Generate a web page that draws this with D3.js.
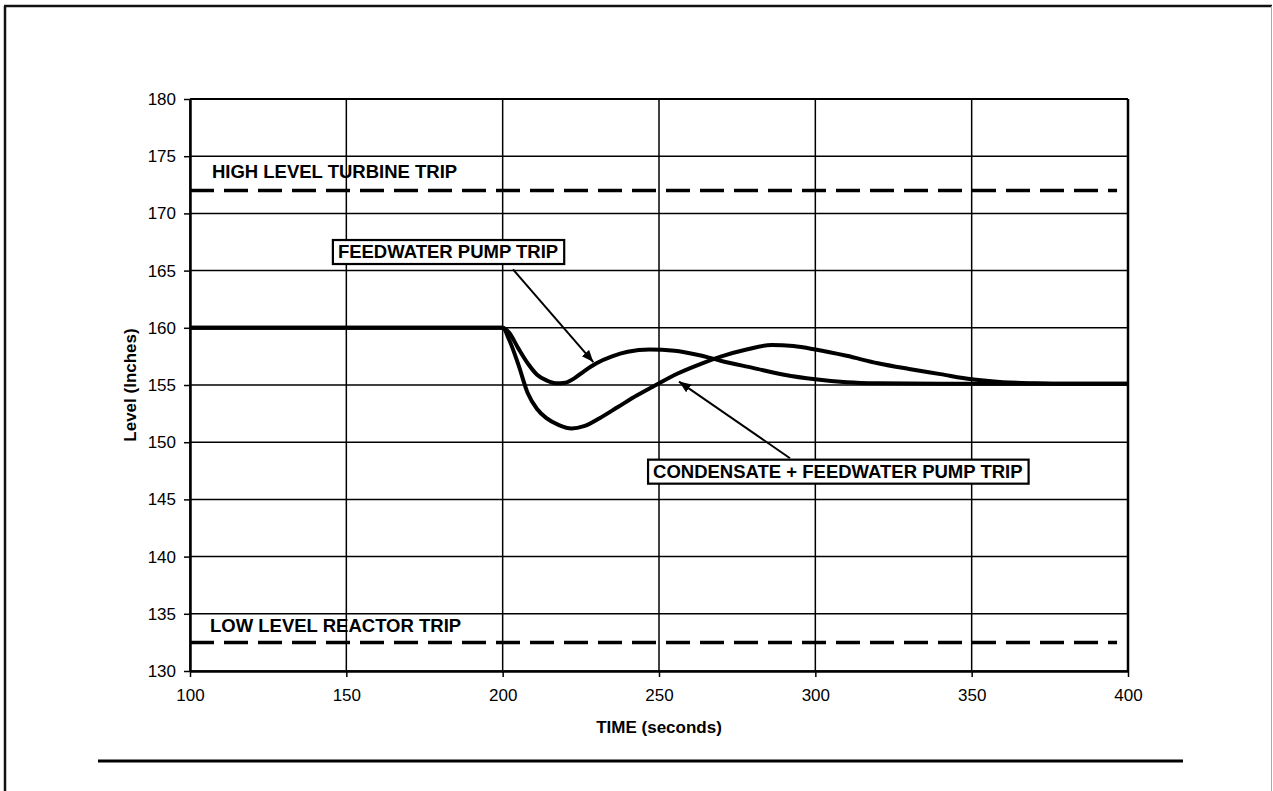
<!DOCTYPE html>
<html>
<head>
<meta charset="utf-8">
<script src="https://cdn.jsdelivr.net/npm/d3@7"></script>
<style>
  body { margin: 0; background: #fff; }
  svg text { font-family: "Liberation Sans", Arial, Helvetica, sans-serif; fill: #000; }
</style>
</head>
<body>
<div id="chart"></div>
<script>
// Data
var xTicks = [100, 150, 200, 250, 300, 350, 400]
var yTicks = [130, 135, 140, 145, 150, 155, 160, 165, 170, 175, 180]

// Feedwater pump trip
var fwTime  = [100, 200, 202, 205, 208, 211, 214, 217, 220, 223, 226, 230, 235, 240, 247, 255, 263, 270, 280, 290, 300, 310, 320, 340, 360, 380, 400]
var fwLevel = [160, 160, 159.6, 158.2, 156.9, 155.9, 155.4, 155.15, 155.2, 155.6, 156.2, 156.9, 157.5, 157.9, 158.1, 158.0, 157.6, 157.1, 156.5, 155.9, 155.5, 155.25, 155.15, 155.1, 155.1, 155.1, 155.1]

// Condensate + feedwater pump trip
var cfTime  = [100, 200, 202, 205, 208, 211, 214, 218, 222, 226, 231, 237, 243, 249, 256, 263, 270, 278, 286, 293, 300, 310, 320, 330, 340, 350, 360, 370, 380, 400]
var cfLevel = [160, 160, 159.0, 156.8, 154.3, 152.9, 152.1, 151.5, 151.2, 151.4, 152.1, 153.1, 154.1, 155.0, 156.0, 156.8, 157.5, 158.1, 158.5, 158.4, 158.1, 157.55, 156.9, 156.4, 155.95, 155.5, 155.25, 155.15, 155.1, 155.1]

// Trip setpoints
var tripNames  = ["HIGH LEVEL TURBINE TRIP", "LOW LEVEL REACTOR TRIP"]
var tripLevels = [172, 132.5]

var W = 1273, H = 791
var margin = {left: 190, top: 99, right: 145, bottom: 120}
var width = W - margin.left - margin.right   // 938
var height = H - margin.top - margin.bottom  // 572

var svg = d3.select("#chart").append("svg")
  .attr("width", W)
  .attr("height", H)

// page frame
svg.append("line").attr("x1", 5).attr("y1", 6).attr("x2", 5).attr("y2", H)
  .attr("stroke", "#111").attr("stroke-width", 2.5)
svg.append("line").attr("x1", 4).attr("y1", 6).attr("x2", 1272).attr("y2", 6)
  .attr("stroke", "#111").attr("stroke-width", 2.5)
svg.append("line").attr("x1", 1271.5).attr("y1", 6).attr("x2", 1271.5).attr("y2", H)
  .attr("stroke", "#aaa").attr("stroke-width", 1)

// separator under the chart
svg.append("line").attr("x1", 98).attr("y1", 761).attr("x2", 1183).attr("y2", 761)
  .attr("stroke", "#000").attr("stroke-width", 3)

var g = svg.append("g").attr("transform", "translate(" + margin.left + "," + margin.top + ")")

var x = d3.scaleLinear().domain([100, 400]).range([0, width])
var y = d3.scaleLinear().domain([130, 180]).range([height, 0])

// grid
g.append("g").selectAll("line").data(yTicks).enter().append("line")
  .attr("x1", 0).attr("x2", width)
  .attr("y1", d => y(d)).attr("y2", d => y(d))
  .attr("stroke", "#000").attr("stroke-width", 1.5)
g.append("g").selectAll("line").data(xTicks).enter().append("line")
  .attr("y1", 0).attr("y2", height)
  .attr("x1", d => x(d)).attr("x2", d => x(d))
  .attr("stroke", "#000").attr("stroke-width", 1.5)

// axes
var xAxis = g.append("g")
  .attr("transform", "translate(0," + height + ")")
  .call(d3.axisBottom(x).tickValues(xTicks).tickSize(6).tickSizeOuter(0).tickPadding(12))
var yAxis = g.append("g")
  .call(d3.axisLeft(y).tickValues(yTicks).tickSize(6).tickSizeOuter(0).tickPadding(8))

;[xAxis, yAxis].forEach(function(a) {
  a.select(".domain").attr("stroke", "#000").attr("stroke-width", 2.5)
  a.selectAll(".tick line").attr("stroke", "#000").attr("stroke-width", 1.5)
  a.selectAll("text").style("font-size", "17px").attr("fill", "#000")
})

// right edge of the plot
g.append("line").attr("x1", width).attr("x2", width).attr("y1", 0).attr("y2", height)
  .attr("stroke", "#000").attr("stroke-width", 2.5)
g.append("line").attr("x1", 0).attr("x2", width).attr("y1", 0).attr("y2", 0)
  .attr("stroke", "#000").attr("stroke-width", 2)

// axis titles
g.append("text")
  .attr("x", x(250)).attr("y", height + 62)
  .attr("text-anchor", "middle")
  .style("font-size", "17px").style("font-weight", "bold")
  .text("TIME (seconds)")

g.append("text")
  .attr("transform", "translate(" + (-54) + "," + (height / 2) + ") rotate(-90)")
  .attr("text-anchor", "middle")
  .style("font-size", "17px").style("font-weight", "bold")
  .text("Level (Inches)")

// trip setpoint lines
g.append("g").selectAll("line").data(tripLevels).enter().append("line")
  .attr("x1", x(100)).attr("x2", x(396.5))
  .attr("y1", d => y(d)).attr("y2", d => y(d))
  .attr("stroke", "#000").attr("stroke-width", 3.5)
  .attr("stroke-dasharray", "24 10")

var tripLabelPos = [[107, 173.1], [106.4, 133.4]]
g.append("g").selectAll("text").data(tripNames).enter().append("text")
  .attr("x", (d, i) => x(tripLabelPos[i][0]))
  .attr("y", (d, i) => y(tripLabelPos[i][1]))
  .style("font-size", "18.5px").style("font-weight", "bold")
  .text(d => d)

// curves
var line = d3.line()
  .x(d => x(d[0]))
  .y(d => y(d[1]))
  .curve(d3.curveMonotoneX)

var fwData = fwTime.map((t, i) => [t, fwLevel[i]])
var cfData = cfTime.map((t, i) => [t, cfLevel[i]])

;[fwData, cfData].forEach(function(d) {
  g.append("path").datum(d)
    .attr("d", line)
    .attr("fill", "none")
    .attr("stroke", "#000")
    .attr("stroke-width", 4)
    .attr("stroke-linejoin", "round")
})

// annotations
svg.append("defs").append("marker")
  .attr("id", "arrow")
  .attr("viewBox", "0 0 10 10")
  .attr("refX", 10).attr("refY", 5)
  .attr("markerWidth", 12).attr("markerHeight", 12)
  .attr("markerUnits", "userSpaceOnUse")
  .attr("orient", "auto")
  .append("path").attr("d", "M0,1 L10,5 L0,9 Z").attr("fill", "#000")

var notes = [
  {text: "FEEDWATER PUMP TRIP", tx: 147.3, ty: 166.1, from: [203.3, 165.1], to: [229, 157.0]},
  {text: "CONDENSATE + FEEDWATER PUMP TRIP", tx: 248.1, ty: 146.9, from: [291.9, 148.6], to: [256.4, 155.3]}
]

notes.forEach(function(n) {
  g.append("line")
    .attr("x1", x(n.from[0])).attr("y1", y(n.from[1]))
    .attr("x2", x(n.to[0])).attr("y2", y(n.to[1]))
    .attr("stroke", "#000").attr("stroke-width", 2)
    .attr("marker-end", "url(#arrow)")
  var box = g.append("rect")
  var t = g.append("text")
    .attr("x", x(n.tx)).attr("y", y(n.ty))
    .style("font-size", "18.5px").style("font-weight", "bold")
    .text(n.text)
  var bb = t.node().getBBox()
  box.attr("x", bb.x - 5).attr("y", bb.y - 1)
    .attr("width", bb.width + 11).attr("height", bb.height + 3)
    .attr("fill", "#fff").attr("stroke", "#000").attr("stroke-width", 2.2)
})
</script>
</body>
</html>
